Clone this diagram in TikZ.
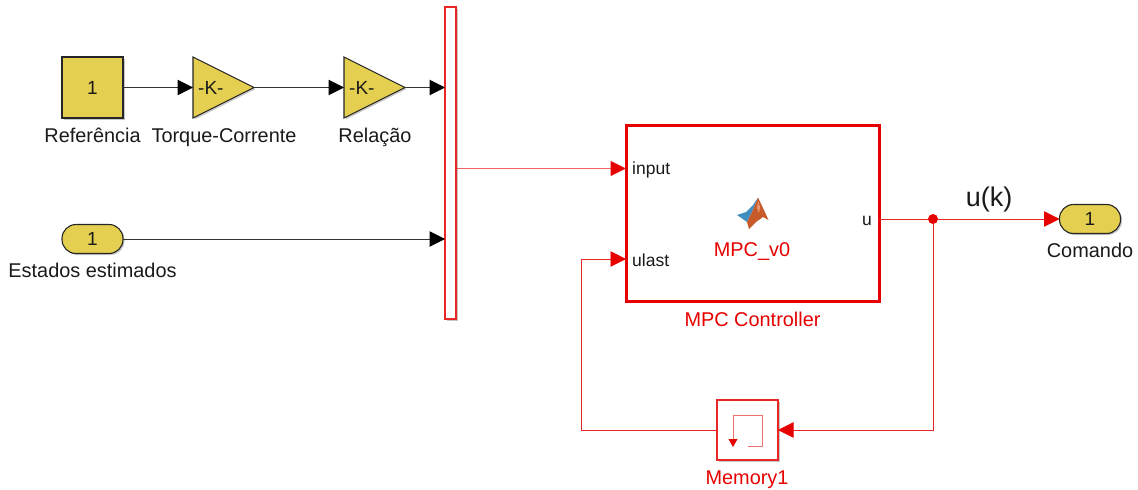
\documentclass[tikz,border=0pt]{standalone}
\usepackage{fontspec}
\setmainfont{Liberation Sans}
\usetikzlibrary{arrows.meta,shapes.geometric,shadows}
\definecolor{blockyellow}{HTML}{E5CF50}
\definecolor{simred}{HTML}{E60000}
\definecolor{simline}{HTML}{333333}
\definecolor{txtdark}{HTML}{1A1A1A}
\definecolor{logoblue}{HTML}{3F8FBF}
\definecolor{logoorange}{HTML}{C65A2A}
\definecolor{logolight}{HTML}{E89A70}
\tikzset{
	blockshadow/.style={drop shadow={shadow xshift=1.5pt,shadow yshift=-1.5pt,opacity=0.22,fill=black}},
	yblock/.style={draw=black!85,line width=1.1pt,fill=blockyellow,blockshadow,inner sep=0pt,outer sep=0pt,font=\fontsize{19}{20}\selectfont,text=txtdark},
	constblock/.style={yblock,rectangle,minimum width=61pt,minimum height=61pt},
	portblock/.style={yblock,rectangle,rounded corners=14pt,minimum width=61pt,minimum height=29pt},
	gainblock/.style={yblock,isosceles triangle,isosceles triangle apex angle=53.13,isosceles triangle stretches,shape border rotate=0,anchor=west,minimum width=61pt,minimum height=61pt},
	redblock/.style={draw=simred,fill=white,rectangle,blockshadow,inner sep=0pt,outer sep=0pt},
	lbl/.style={anchor=base,font=\fontsize{19.9}{20}\selectfont,text=txtdark,inner sep=0pt},
	redlbl/.style={lbl,text=simred},
	portlbl/.style={anchor=base west,font=\fontsize{17.5}{18}\selectfont,text=txtdark,inner sep=0pt},
	sig/.style={simline,line width=1pt,-{Triangle[length=15.5pt,width=15.5pt,color=black]}},
	redsig/.style={simred!85,line width=0.9pt,-{Triangle[length=15.5pt,width=15.5pt,color=simred]}},
	redwire/.style={simred!85,line width=0.9pt},
}
\begin{document}
\begin{tikzpicture}[x=1pt,y=-1pt]
	\useasboundingbox (0,0) rectangle (1138,490);
	\node[constblock] (ref) at (92.5,87.5) {1};
	\node[gainblock] (gaintc) at (193,87.5) {};
	\node[gainblock] (gainrel) at (344,87.5) {};
	\node[portblock] (estados) at (92.5,239) {1};
	\node[redblock,line width=1.2pt,draw=simred!85,minimum width=11pt,minimum height=312pt] (mux) at (450.5,163) {};
	\node[redblock,line width=3pt,minimum width=253pt,minimum height=176pt] (mpc) at (752.5,213) {};
	\node[redblock,line width=1.4pt,draw=simred!85,minimum width=61pt,minimum height=60pt] (mem) at (747.5,430) {};
	\node[portblock] (comando) at (1090,219) {1};
	\node[circle,fill=simred,inner sep=0pt,minimum size=10pt] (junc) at (933,219) {};
	\coordinate (mpcin) at (626,168.5);
	\coordinate (mpclast) at (626,259);
	\coordinate (mpcout) at (879,219);
	\coordinate (fbleft) at (581,430);

	\node[anchor=base west,font=\fontsize{19}{20}\selectfont,text=txtdark,inner sep=0pt] (ktc) at (198,94) {-K-};
	\node[anchor=base west,font=\fontsize{19}{20}\selectfont,text=txtdark,inner sep=0pt] (krel) at (349,94) {-K-};

	\node[lbl] (lref) at (92.5,142) {Referência};
	\node[lbl] (ltc) at (224,142) {Torque-Corrente};
	\node[lbl] (lrel) at (375,142) {Relação};
	\node[lbl] (lest) at (92.5,277) {Estados estimados};
	\node[lbl] (lcom) at (1090,257) {Comando};
	\node[redlbl] (lmpc) at (752.5,326) {MPC Controller};
	\node[redlbl] (lmem) at (747,484) {Memory1};
	\node[redlbl] (lfcn) at (752,256) {MPC\_v0};
	\node[lbl,font=\fontsize{27}{28}\selectfont] (luk) at (989,206) {u(k)};
	\node[portlbl] (pin) at (632,174) {input};
	\node[portlbl] (plast) at (632,266) {ulast};
	\node[portlbl,anchor=base east] (pu) at (872,225) {u};

	\fill[logoblue] (737,215) -- (746,212) -- (753,205) -- (758,197.5) -- (752,212) -- (747,222) -- cycle;
	\fill[logoorange] (747,222) -- (752,212) -- (755,205) -- (758,197.5) -- (763,208) -- (768.5,220) -- (763,217) -- (756,222) -- (749,229) -- cycle;
	\fill[logolight] (758,201) -- (760,207) -- (759,213) -- (757,208) -- cycle;

	\draw[redwire,opacity=0.65] (733,446) -- (733,415) -- (762,415) -- (762,446) -- (748,446);
	\fill[simred] (728.5,439) -- (737.5,439) -- (733,447) -- cycle;

	\draw[sig] (ref.east) -- (gaintc.west);
	\draw[sig] (gaintc.east) -- (gainrel.west);
	\draw[sig] (gainrel.east) -- (gainrel.east -| mux.west);
	\draw[sig] (estados.east) -- (estados.east -| mux.west);
	\draw[redsig,draw opacity=0.7] (mpcin -| mux.east) -- (mpcin);
	\draw[redwire] (mpcout) -- (junc);
	\draw[redsig] (junc) -- (comando.west);
	\draw[redsig] (junc) |- (mem.east);
	\draw[redsig] (mem.west) -- (fbleft) |- (mpclast);
\end{tikzpicture}
\end{document}
